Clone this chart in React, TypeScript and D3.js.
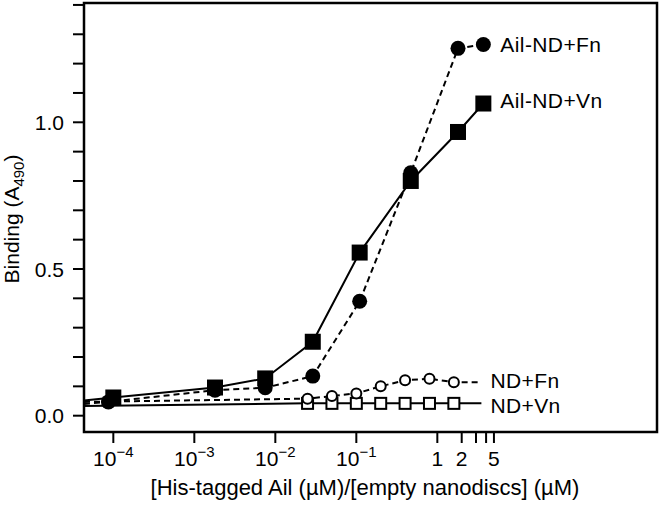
import React from 'react';
import * as d3 from 'd3';

// concentrations (µM) and A490 readings
const ailFnConc = [8.7e-5, 0.0018, 0.0075, 0.029, 0.11, 0.47, 1.8, 3.7];
const ailFnValues = [0.047, 0.087, 0.095, 0.135, 0.39, 0.828, 1.252, 1.265];
const ailVnConc = [1e-4, 0.0018, 0.0075, 0.029, 0.11, 0.47, 1.8, 3.7];
const ailVnValues = [0.062, 0.096, 0.127, 0.252, 0.556, 0.8, 0.967, 1.064];
const ndConc = [0.025, 0.05, 0.1, 0.2, 0.4, 0.8, 1.6];
const ndFnValues = [0.058, 0.067, 0.076, 0.1, 0.121, 0.126, 0.114];
const ndVnValues = [0.042, 0.042, 0.042, 0.042, 0.042, 0.042, 0.042];

// where the lines run off the left edge / past the last marker
const edgeValues = { ailFn: 0.04, ailVn: 0.052, ndFn: 0.047, ndVn: 0.033 };
const trailConc = 3.5;
const trailValues = { ndFn: 0.114, ndVn: 0.042 };

const decadeTicks = [1e-4, 1e-3, 1e-2, 1e-1];
const unitTicks = [1, 2, 3, 4, 5];
const unitLabels = ['1', '2', '5'];
const yTicks = d3.range(0, 15).map((i) => i / 10);
const yLabels = [0, 0.5, 1.0];

const width = 660;
const height = 505;
const left = 84;
const right = 657;
const top = 3;
const bottom = 432;

const font = '"Liberation Sans", Arial, Helvetica, sans-serif';

const App = () => {
  const x = d3
    .scaleLog()
    .domain([Math.pow(10, -4.362), Math.pow(10, 2.712)])
    .range([left, right]);
  const y = d3.scaleLinear().domain([-0.0556, 1.4066]).range([bottom, top]);
  const xMin = x.domain()[0];

  const line = d3
    .line<[number, number]>()
    .x((d) => x(d[0]))
    .y((d) => y(d[1]));

  const zip = (xs: number[], ys: number[]) => xs.map((v, i) => [v, ys[i]] as [number, number]);

  const ailFn = zip(ailFnConc, ailFnValues);
  const ailVn = zip(ailVnConc, ailVnValues);
  const ndFn = zip(ndConc, ndFnValues);
  const ndVn = zip(ndConc, ndVnValues);

  const ndFnPath = line([[xMin, edgeValues.ndFn], ...ndFn, [trailConc, trailValues.ndFn]]);
  const ndVnPath = line([[xMin, edgeValues.ndVn], ...ndVn, [trailConc, trailValues.ndVn]]);
  const ailFnPath = line([[xMin, edgeValues.ailFn], ...ailFn]);
  const ailVnPath = line([[xMin, edgeValues.ailVn], ...ailVn]);

  const lastFn = ailFn[ailFn.length - 1];
  const lastVn = ailVn[ailVn.length - 1];

  return (
    <div style={{ position: 'absolute', left: 0, top: 0 }}>
      <svg width={width} height={height} style={{ display: 'block', background: '#fff' }}>
        <g fontFamily={font} fill="#000">
          {/* ND lines */}
          <path d={ndVnPath || ''} fill="none" stroke="#000" strokeWidth={2} />
          <path d={ndFnPath || ''} fill="none" stroke="#000" strokeWidth={2} strokeDasharray="6,4" />
          {/* Ail lines */}
          <path d={ailFnPath || ''} fill="none" stroke="#000" strokeWidth={2} strokeDasharray="6,4" />
          <path d={ailVnPath || ''} fill="none" stroke="#000" strokeWidth={2} />

          {ndVn.map((d, i) => (
            <rect key={'nv' + i} x={x(d[0]) - 5.5} y={y(d[1]) - 5.5} width={11} height={11}
              fill="#fff" stroke="#000" strokeWidth={2} />
          ))}
          {ndFn.map((d, i) => (
            <circle key={'nf' + i} cx={x(d[0])} cy={y(d[1])} r={5} fill="#fff" stroke="#000" strokeWidth={2} />
          ))}
          {ailFn.map((d, i) => (
            <circle key={'af' + i} cx={x(d[0])} cy={y(d[1])} r={7.5} fill="#000" />
          ))}
          {ailVn.map((d, i) => (
            <rect key={'av' + i} x={x(d[0]) - 8} y={y(d[1]) - 8} width={16} height={16} fill="#000" />
          ))}

          {/* frame */}
          <rect x={left} y={top} width={right - left} height={bottom - top} fill="none" stroke="#000" strokeWidth={2.5} />

          {/* y axis */}
          {yTicks.map((t) => (
            <line key={'yt' + t} x1={left - 11} x2={left} y1={y(t)} y2={y(t)} stroke="#000" strokeWidth={2} />
          ))}
          {yLabels.map((t) => (
            <text key={'yl' + t} x={left - 20} y={y(t)} dy="0.36em" textAnchor="end" fontSize={21}>
              {d3.format('.1f')(t)}
            </text>
          ))}
          <text transform={`translate(19,219) rotate(-90)`} textAnchor="middle" fontSize={21}>
            Binding (A
            <tspan fontSize={15} dy={5}>490</tspan>
            <tspan dy={-5}>)</tspan>
          </text>

          {/* x axis */}
          {[...decadeTicks, ...unitTicks].map((t) => (
            <line key={'xt' + t} x1={x(t)} x2={x(t)} y1={bottom} y2={bottom + 11} stroke="#000" strokeWidth={2} />
          ))}
          {decadeTicks.map((t) => (
            <text key={'xl' + t} x={x(t)} y={466} textAnchor="middle" fontSize={21}>
              10<tspan fontSize={15} dy={-9}>{'\u2212' + Math.round(-Math.log10(t))}</tspan>
            </text>
          ))}
          {unitLabels.map((t) => (
            <text key={'ul' + t} x={x(+t)} y={466} textAnchor="middle" fontSize={21}>
              {t}
            </text>
          ))}
          <text x={365} y={495} textAnchor="middle" fontSize={22}>
            [His-tagged Ail (µM)/[empty nanodiscs] (µM)
          </text>

          {/* series labels */}
          <text x={x(lastFn[0]) + 17} y={y(lastFn[1])} dy="0.36em" fontSize={21} letterSpacing={0.4}>Ail-ND+Fn</text>
          <text x={x(lastVn[0]) + 17} y={y(lastVn[1]) - 3} dy="0.36em" fontSize={21} letterSpacing={0.4}>Ail-ND+Vn</text>
          <text x={x(trailConc) + 9} y={y(trailValues.ndFn) - 2} dy="0.36em" fontSize={21} letterSpacing={0.4}>ND+Fn</text>
          <text x={x(trailConc) + 9} y={y(trailValues.ndVn) + 2} dy="0.36em" fontSize={21} letterSpacing={0.4}>ND+Vn</text>
        </g>
      </svg>
    </div>
  );
};

export default App;
